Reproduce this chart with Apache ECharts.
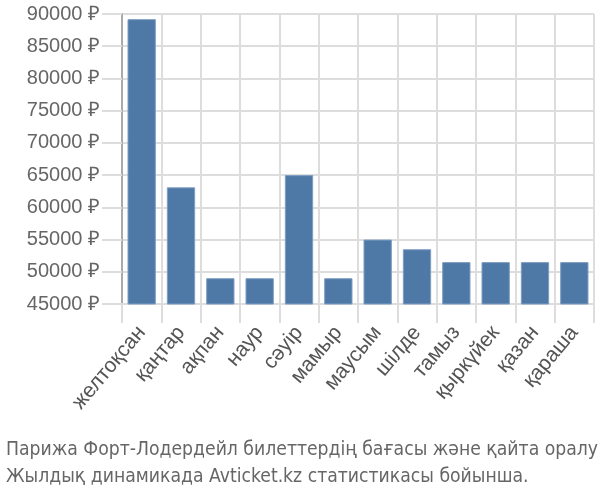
<!DOCTYPE html>
<html><head><meta charset="utf-8">
<script src="https://cdn.jsdelivr.net/npm/echarts@6/dist/echarts.min.js"></script>
<style>html,body{margin:0;padding:0;background:#fff}#c{width:600px;height:500px}</style>
</head><body><div id="c"></div>
<script>
const categories = ['желтоқсан','қаңтар','ақпан','наур','сәуір','мамыр','маусым','шілде','тамыз','қыркүйек','қазан','қараша'];
const prices = [89200, 63100, 49000, 49000, 65000, 49000, 55000, 53500, 51500, 51500, 51500, 51500];
const yTicks = {min: 45000, max: 90000, step: 5000};
const titleLines = ['Парижа Форт-Лодердейл билеттердің бағасы және қайта оралу', 'Жылдық динамикада Avticket.kz статистикасы бойынша.'];

const chart = echarts.init(document.getElementById('c'), null, {renderer: 'canvas'});
chart.setOption({
  animation: false,
  grid: {left: 122, right: 6, top: 14, bottom: 196, containLabel: false},
  title: {
    text: titleLines.join('\n'), left: 1, top: 432,
    textStyle: {fontFamily: 'DejaVu Sans Condensed', fontSize: 19.2, fontWeight: 'normal', color: '#666', lineHeight: 27}
  },
  xAxis: {
    type: 'category', data: categories,
    axisLine: {show: true, lineStyle: {color: '#ddd', width: 2}},
    axisTick: {show: true, length: 19, lineStyle: {color: '#ddd', width: 2}},
    splitLine: {show: true, lineStyle: {color: '#ddd', width: 2}},
    axisLabel: {rotate: 50, fontFamily: 'Liberation Sans', fontSize: 21, color: '#555', margin: 25, interval: 0}
  },
  yAxis: {
    type: 'value', min: yTicks.min, max: yTicks.max, interval: yTicks.step,
    axisLine: {show: true, lineStyle: {color: '#aaa', width: 2}},
    axisTick: {show: true, length: 20, lineStyle: {color: '#ddd', width: 2}},
    splitLine: {show: true, lineStyle: {color: '#ddd', width: 2}},
    axisLabel: {formatter: v => v + ' ₽', fontFamily: 'Liberation Sans', fontSize: 20, color: '#666', margin: 22}
  },
  series: [{
    type: 'bar', data: prices, barCategoryGap: '28%',
    itemStyle: {color: '#4e78a6', borderColor: '#7f9ec2', borderWidth: 1}
  }]
});
</script></body></html>
